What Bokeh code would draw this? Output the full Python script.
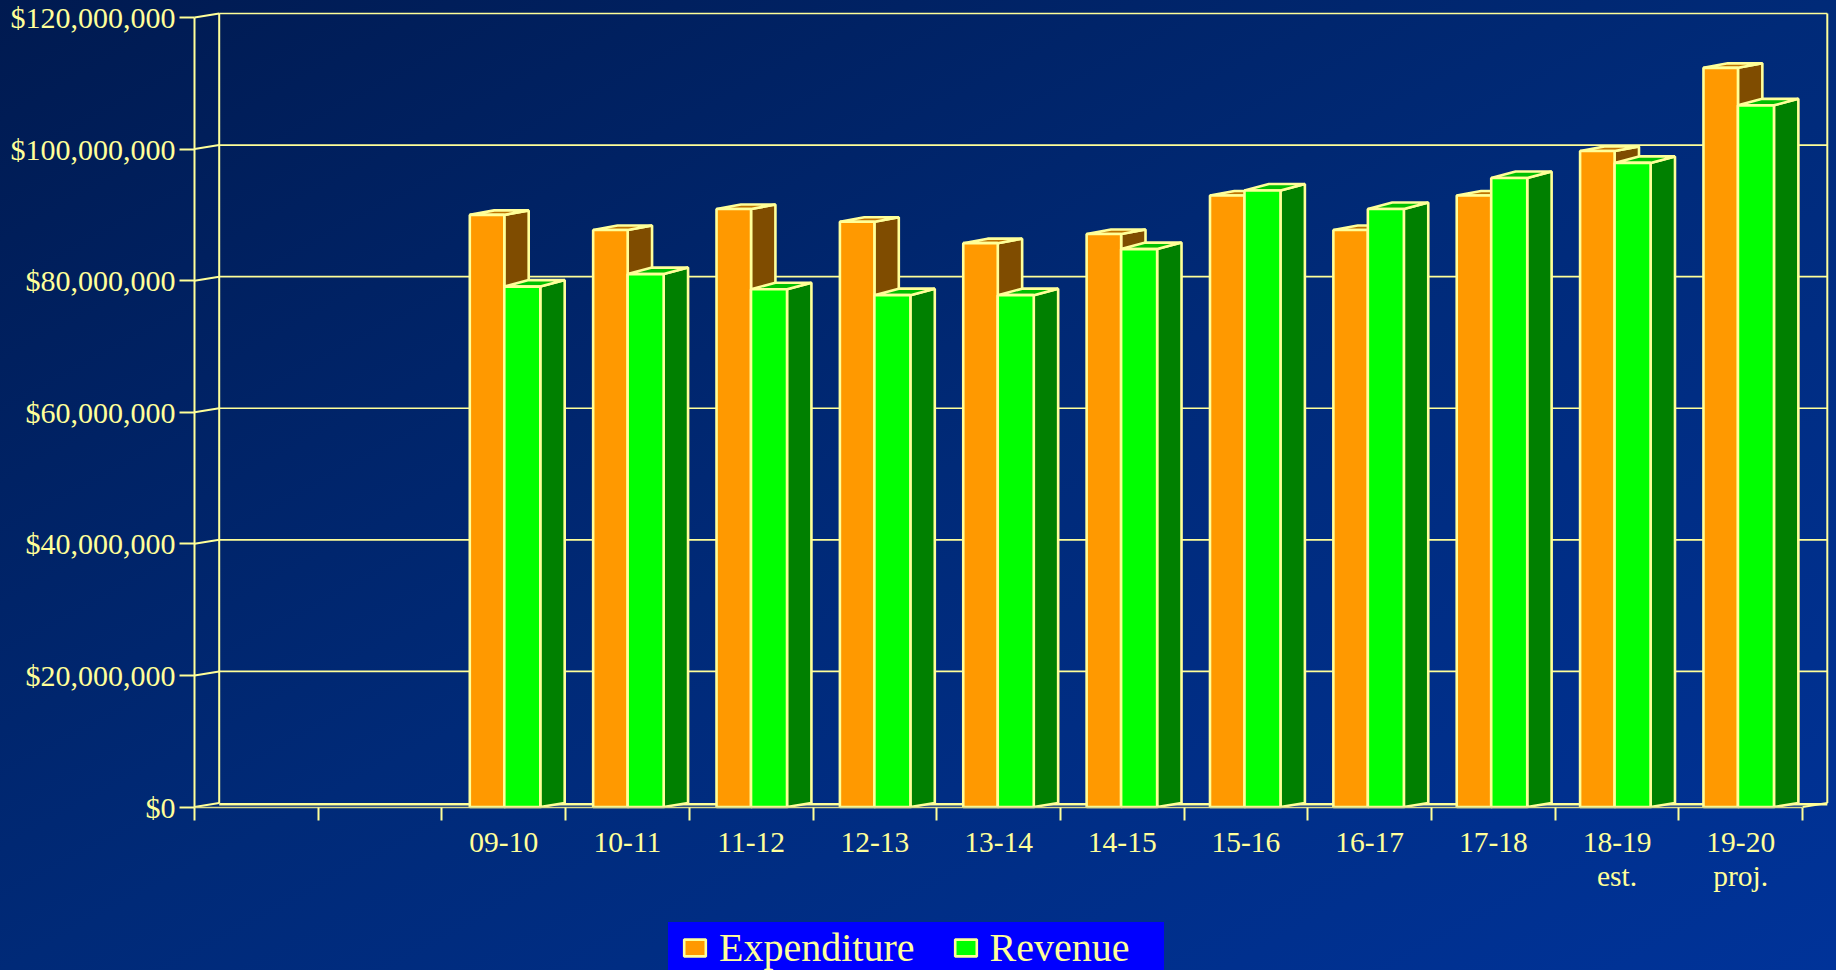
from bokeh.embed import file_html
from bokeh.resources import INLINE
from bokeh.plotting import figure
from bokeh.models import FixedTicker, Legend, LegendItem, Range1d, LinearAxis, BoxAnnotation

categories = ["09-10", "10-11", "11-12", "12-13", "13-14", "14-15", "15-16", "16-17", "17-18", "18-19\nest.", "19-20\nproj."]
blank_slots = 2
expenditure = [90.0e6, 87.7e6, 90.9e6, 88.95e6, 85.7e6, 87.1e6, 92.95e6, 87.7e6, 92.95e6, 99.7e6, 112.35e6]
revenue = [79.1e6, 81.0e6, 78.7e6, 77.8e6, 77.8e6, 84.8e6, 93.7e6, 90.9e6, 95.6e6, 97.9e6, 106.65e6]
y_ticks = [0, 20e6, 40e6, 60e6, 80e6, 100e6, 120e6]
y_labels = ["$0", "$20,000,000", "$40,000,000", "$60,000,000", "$80,000,000", "$100,000,000", "$120,000,000"]

INK = "#ffff99"
FONT = "Liberation Serif"
PX_X = 123.7            # px per category slot
PX_Y = 789.5 / 120e6    # px per dollar
DX = 24.7 / PX_X
DY = 4 / PX_Y
DX_BAR = 24.4 / PX_X
DY_ORANGE = 4.5 / PX_Y
DY_GREEN = 6.5 / PX_Y
n_slots = blank_slots + len(categories)
LEFT_PX, BASE_PX = 194, 806.5

p = figure(width=1836, height=970, output_backend="svg", toolbar_location=None,
           x_range=Range1d(-LEFT_PX / PX_X, (1836 - LEFT_PX) / PX_X),
           y_range=Range1d(-(970 - BASE_PX) / PX_Y, BASE_PX / PX_Y),
           min_border=0, background_fill_alpha=0, border_fill_alpha=0, outline_line_alpha=0)
p.styles = {"background": "linear-gradient(152deg, #001a50 0%, #002a78 50%, #003399 100%)"}
p.grid.visible = False
p.renderers = []
p.below = []
p.left = []
p.center = []

ya = LinearAxis(bounds=(0, 120e6), fixed_location=0, ticker=FixedTicker(ticks=y_ticks),
                major_label_overrides=dict(zip(y_ticks, y_labels)),
                axis_line_color=INK, axis_line_width=2,
                major_tick_line_color=INK, major_tick_line_width=2,
                major_tick_in=0, major_tick_out=15, minor_tick_line_color=None,
                major_label_text_color=INK, major_label_text_font=FONT,
                major_label_text_font_size="30px", major_label_standoff=4)
p.add_layout(ya, "left")

cat_centres = [blank_slots + i + 0.5 for i in range(len(categories))]
xa = LinearAxis(bounds=(0, n_slots), fixed_location=0,
                ticker=FixedTicker(ticks=cat_centres, minor_ticks=list(range(n_slots + 1))),
                major_label_overrides=dict(zip(cat_centres, categories)),
                axis_line_color="#d8d888", axis_line_width=1.5,
                major_tick_line_color=None, major_tick_in=0, major_tick_out=0,
                minor_tick_line_color=INK, minor_tick_line_width=2, minor_tick_in=0, minor_tick_out=13,
                major_label_text_color=INK, major_label_text_font=FONT,
                major_label_text_font_size="29.5px", major_label_standoff=6,
                major_label_text_line_height=1.05)
p.add_layout(xa, "below")

# Back wall, floor and the slanted tick connectors
p.multi_line([[DX, n_slots + DX] for t in y_ticks[1:]], [[t + DY, t + DY] for t in y_ticks[1:]],
             line_color=INK, line_width=1.6)
p.line([DX, n_slots + DX], [0.7 * DY, 0.7 * DY], line_color=INK, line_width=2.6)
wall_xs = [[0, DX] for t in y_ticks]
wall_ys = [[t, t + DY] for t in y_ticks]
wall_xs.append([DX, DX]); wall_ys.append([DY, 120e6 + DY])
wall_xs.append([n_slots + DX, n_slots + DX]); wall_ys.append([DY, 120e6 + DY])
wall_xs.append([n_slots, n_slots + DX]); wall_ys.append([0, DY])
p.multi_line(wall_xs, wall_ys, line_color=INK, line_width=2)

BAR_L = 0.2255
BAR_STEP = 0.9973
W_ORANGE = 34.5 / PX_X
W_GREEN = 36 / PX_X
EDGE = 2.6
front = {}
for i in range(len(categories)):
    s = blank_slots + i * BAR_STEP + BAR_L
    for k, (vals, col, side, top, dy, x0, x1) in enumerate([
            (expenditure, "#ff9900", "#7f4c00", "#bf7300", DY_ORANGE, s, s + W_ORANGE),
            (revenue, "#00ff00", "#008000", "#00bf00", DY_GREEN, s + W_ORANGE, s + W_ORANGE + W_GREEN)]):
        v = vals[i]
        p.patch([x1, x1 + DX_BAR, x1 + DX_BAR, x1], [0, DY, v + dy, v], fill_color=side, line_color=INK, line_width=EDGE)
        p.patch([x0, x1, x1 + DX_BAR, x0 + DX_BAR], [v, v, v + dy, v + dy], fill_color=top, line_color=INK, line_width=EDGE)
        r = p.quad(left=[x0], right=[x1], bottom=[0], top=[v], fill_color=col, line_color=INK, line_width=EDGE)
        front[k] = r

p.add_layout(BoxAnnotation(left=667.5, right=1163.5, bottom=0, top=48.5,
                           left_units="screen", right_units="screen", bottom_units="screen", top_units="screen",
                           fill_color="#0000ff", fill_alpha=1, line_alpha=0), "center")

legend = Legend(items=[LegendItem(label="Expenditure", renderers=[front[0]]),
                       LegendItem(label="Revenue", renderers=[front[1]])],
                orientation="horizontal", location=(681, -1), margin=0,
                background_fill_alpha=0, border_line_color=None,
                label_text_color=INK, label_text_font=FONT, label_text_font_size="40px",
                glyph_width=27, glyph_height=21, label_standoff=11, spacing=37,
                padding=0, label_height=20)
p.add_layout(legend, "center")

open("out.html", "w").write(file_html(p, INLINE))
